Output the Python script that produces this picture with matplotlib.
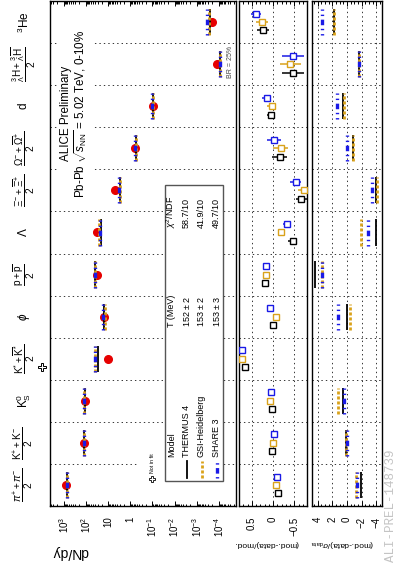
import numpy as np
import matplotlib
matplotlib.use("Agg")
import matplotlib.pyplot as plt
from matplotlib.patches import Rectangle
from matplotlib.ticker import LogLocator, FixedLocator, MultipleLocator, NullFormatter

plt.rcParams["font.family"] = ["Liberation Sans", "DejaVu Sans"]
plt.rcParams["mathtext.fontset"] = "custom"
plt.rcParams["mathtext.rm"] = "Liberation Sans"
plt.rcParams["mathtext.it"] = "Liberation Sans:italic"
plt.rcParams["mathtext.bf"] = "Liberation Sans:bold"
plt.rcParams["lines.scale_dashes"] = False

# ── data ─────────────────────────────────────────────────────────────────────
species = [
    r"$\dfrac{\pi^{+}+\pi^{-}}{2}$",
    r"$\dfrac{\mathrm{K}^{+}+\mathrm{K}^{-}}{2}$",
    r"$\mathrm{K}^{0}_{\mathrm{S}}$",
    r"$\dfrac{\mathrm{K}^{*}+\overline{\mathrm{K}}^{*}}{2}$",
    r"$\phi$",
    r"$\dfrac{\mathrm{p}+\overline{\mathrm{p}}}{2}$",
    r"$\Lambda$",
    r"$\dfrac{\Xi^{-}+\overline{\Xi}^{+}}{2}$",
    r"$\dfrac{\Omega^{-}+\overline{\Omega}^{+}}{2}$",
    r"$\mathrm{d}$",
    r"$\dfrac{{}^{3}_{\Lambda}\mathrm{H}+{}^{3}_{\bar{\Lambda}}\overline{\mathrm{H}}}{2}$",
    r"${}^{3}\mathrm{He}$",
]
is_frac = [True, True, False, True, False, True, False, True, True, False, True, False]

yield_data = [790, 121, 112, 10.2, 15.5, 33, 30.8, 4.9, 0.62, 0.093, 1.23e-4, 1.95e-4]
yield_thermus = [705, 123.5, 115.5, 29.1, 15.3, 41.3, 21.1, 2.93, 0.534, 0.098, 8.37e-5, 2.57e-4]
yield_gsi = [738, 119.8, 119.1, 37.8, 14.6, 39.3, 25.9, 2.85, 0.525, 0.0959, 8.72e-5, 2.64e-4]
yield_share = [718, 118.6, 117.9, 37.8, 16.7, 39.3, 23.3, 3.2, 0.608, 0.109, 8.37e-5, 3.25e-4]

# (mod.-data)/mod.
rel_thermus = [-0.12, 0.02, 0.03, 0.65, -0.01, 0.20, -0.46, -0.67, -0.16, 0.05, -0.47, 0.24]
rel_gsi = [-0.07, -0.01, 0.06, 0.73, -0.06, 0.16, -0.19, -0.72, -0.18, 0.03, -0.41, 0.26]
rel_share = [-0.10, -0.02, 0.05, 0.73, 0.07, 0.16, -0.32, -0.53, -0.02, 0.15, -0.47, 0.40]
rel_err_thermus = [0.03, 0.03, 0.03, 0.03, 0.08, 0.03, 0.10, 0.14, 0.18, 0.10, 0.26, 0.14]
rel_err_gsi = [0.03, 0.03, 0.03, 0.03, 0.07, 0.03, 0.07, 0.14, 0.18, 0.10, 0.25, 0.14]
rel_err_share = [0.03, 0.03, 0.03, 0.03, 0.05, 0.03, 0.09, 0.14, 0.17, 0.11, 0.26, 0.12]

# (mod.-data)/sigma_data  (K* not in fit)
sig_thermus = [-1.9, 0.18, 0.6, np.nan, 0.04, 4.35, -3.9, -3.9, -0.77, 0.5, -1.63, 1.77]
sig_gsi = [-1.22, 0.13, 1.27, np.nan, -0.41, 3.44, -1.9, -4.04, -0.86, 0.41, -1.6, 1.77]
sig_share = [-1.4, 0.0, 0.36, np.nan, 1.18, 3.44, -2.9, -3.36, 0.04, 1.4, -1.66, 3.36]

models = ["THERMUS 4", "GSI-Heidelberg", "SHARE 3"]
temps = ["152 $\\pm$ 2", "153 $\\pm$ 2", "153 $\\pm$ 3"]
chi2 = ["58.7/10", "41.9/10", "49.7/10"]

# ── style ────────────────────────────────────────────────────────────────────
W, H = 400, 572
C_BLK = "#000000"
C_YEL = "#d9a21b"
C_BLU = "#1a1ae6"
LS_BLK = "-"
LS_YEL = (0, (2.2, 1.4))
LS_BLU = (0, (1, 2.8, 1, 2.6, 4, 2.6, 1, 2.8, 1, 20))
GRID = dict(color="#333333", lw=0.7, ls=(0, (1, 2.2)), zorder=1)
HW = 0.31


def fx(x):
    return x / W


def fy(y):
    return 1 - y / H


fig = plt.figure(figsize=(W / 100, H / 100), dpi=100)
ax1 = fig.add_axes([fx(50), fy(506), (236 - 50) / W, 505 / H])
ax2 = fig.add_axes([fx(239), fy(506), (307 - 239) / W, 505 / H])
ax3 = fig.add_axes([fx(312), fy(506), (382 - 312) / W, 505 / H])

pos = np.arange(len(species))

for ax in (ax1, ax2, ax3):
    ax.set_ylim(-0.5, len(species) - 0.5)
    ax.set_yticks([])
    for s in ax.spines.values():
        s.set_linewidth(1.0)
    ax.tick_params(axis="x", which="both", direction="in", top=True, bottom=True,
                   labelsize=7, labelrotation=90, pad=7.5, width=0.7)
    ax.tick_params(axis="x", which="major", length=3.6)
    ax.tick_params(axis="x", which="minor", length=1.8)
    for b in pos[:-1] + 0.5:
        ax.axhline(b, **GRID)

# ① dN/dy
ax1.set_xscale("log")
ax1.set_xlim(10 ** 3.63, 10 ** -4.78)
dec = list(range(-4, 4))
ax1.xaxis.set_major_locator(FixedLocator([10.0 ** k for k in dec]))
ax1.set_xticklabels(["1" if k == 0 else "10" if k == 1 else r"$10^{%d}$" % k for k in dec])
ax1.xaxis.set_minor_locator(LogLocator(base=10, subs=np.arange(2, 10), numticks=20))
ax1.xaxis.set_minor_formatter(NullFormatter())

ax1.plot(yield_data, pos, "o", color="#e60000", ms=5.5, zorder=4)
ax1.vlines(yield_thermus, pos - HW, pos + HW, colors=C_BLK, linestyles=LS_BLK, lw=1.3, zorder=5)
ax1.vlines(yield_gsi, pos - HW, pos + HW, colors=C_YEL, linestyles=[LS_YEL], lw=2.0, zorder=6)
ax1.vlines(yield_share, pos - HW, pos + HW, colors=C_BLU, linestyles=[LS_BLU], lw=2.4, zorder=7)

# white boxes hiding the grid behind text
for (x0, y0, x1, y1) in [(58, 25, 93, 203), (137, 445, 164, 487)]:
    ax1.add_patch(Rectangle((fx(x0), fy(y1)), (x1 - x0) / W, (y1 - y0) / H,
                            transform=fig.transFigure, fc="white", ec="none", zorder=2))
ax1.add_patch(Rectangle((fx(165), fy(481)), (223 - 165) / W, (481 - 185) / H,
                        transform=fig.transFigure, fc="white", ec="#555555", lw=1.0, zorder=2))


def ftext(x, y, s, **kw):
    kw.setdefault("rotation", 90)
    kw.setdefault("ha", "center")
    kw.setdefault("va", "center")
    kw.setdefault("zorder", 8)
    fig.text(fx(x), fy(y), s, **kw)


ftext(66, 113, "ALICE Preliminary", fontsize=8.4)
ftext(81, 114, r"Pb-Pb $\sqrt{s_{\mathrm{NN}}}$ = 5.02 TeV, 0-10%", fontsize=8.4)
ftext(231, 62, "BR = 25%", fontsize=5, color="#444444")

# legend
rows_x = [186.5, 201.5, 216.5]
ftext(171.5, 457, "Model", fontsize=6.5, va="bottom")
ftext(171.5, 327, "T (MeV)", fontsize=6.5, va="bottom")
ftext(171.5, 228, r"$\chi^{2}$/NDF", fontsize=6.5, va="bottom")
for xr, m, t, c in zip(rows_x, models, temps, chi2):
    ftext(xr, 457, m, fontsize=6.5, va="bottom")
    ftext(xr, 327, t, fontsize=6.5, va="bottom")
    ftext(xr, 228, c, fontsize=6.5, va="bottom")
for xr, col, ls, lw in zip(rows_x, [C_BLK, C_YEL, C_BLU], [LS_BLK, LS_YEL, (0, (1, 2.5, 4, 2.5, 1, 20))],
                           [1.3, 2.0, 2.4]):
    fig.add_artist(plt.Line2D([fx(xr), fx(xr)], [fy(478), fy(461)], color=col, ls=ls, lw=lw,
                              transform=fig.transFigure, zorder=8))

# not in fit
fig.add_artist(plt.Line2D([fx(151.7)], [fy(478.5)], marker="P", ms=5, mfc="white", mec="black",
                          mew=0.6, transform=fig.transFigure, zorder=8))
ftext(152.5, 473, "Not in fit", fontsize=3.8, va="bottom")
fig.add_artist(plt.Line2D([fx(41.7)], [fy(366.7)], marker="P", ms=6, mfc="white", mec="black",
                          mew=0.7, transform=fig.transFigure, zorder=8))

# species labels
for i, lab in enumerate(species):
    ax1.text(-0.14, i, lab, transform=ax1.get_yaxis_transform(), rotation=90,
             ha="center", va="center", fontsize=7.2 if is_frac[i] else 8.5)

# ② (mod.-data)/mod.
ax2.set_xlim(0.8, -0.8)
ax2.xaxis.set_major_locator(FixedLocator([0.5, 0, -0.5]))
ax2.set_xticklabels(["0.5", "0", "\u22120.5"])
ax2.xaxis.set_minor_locator(MultipleLocator(0.1))
for v in [0.5, 0, -0.5]:
    ax2.axvline(v, **GRID)
for vals, errs, col, off in [(rel_thermus, rel_err_thermus, C_BLK, -0.2),
                             (rel_gsi, rel_err_gsi, C_YEL, 0.0),
                             (rel_share, rel_err_share, C_BLU, 0.2)]:
    ax2.errorbar(vals, pos + off, xerr=errs, fmt="s", ms=4.8, mfc="white", mec=col,
                 mew=1.0, ecolor=col, elinewidth=1.1, capsize=0, zorder=5)

# ③ (mod.-data)/sigma
ax3.set_xlim(4.75, -4.75)
ax3.xaxis.set_major_locator(FixedLocator([4, 2, 0, -2, -4]))
ax3.set_xticklabels(["4", "2", "0", "\u22122", "\u22124"])
ax3.xaxis.set_minor_locator(MultipleLocator(0.5))
for v in [4, 2, 0, -2, -4]:
    ax3.axvline(v, **GRID)
ax3.vlines(sig_thermus, pos - HW, pos + HW, colors=C_BLK, linestyles=LS_BLK, lw=1.3, zorder=5)
ax3.vlines(sig_gsi, pos - HW, pos + HW, colors=C_YEL, linestyles=[LS_YEL], lw=2.0, zorder=6)
ax3.vlines(sig_share, pos - HW, pos + HW, colors=C_BLU, linestyles=[LS_BLU], lw=2.4, zorder=7)

# axis titles (upside down)
ftext(52, 552, "dN/dy", fontsize=10, rotation=180, ha="left")
ftext(266, 543, "(mod.-data)/mod.", fontsize=6, rotation=180)
ftext(342, 543, r"(mod.-data)/$\sigma_{\mathrm{data}}$", fontsize=6, rotation=180)

ftext(391, 562, "ALI-PREL-148739", fontsize=9, va="bottom", color="#c4c4c4",
      family=["Liberation Mono", "DejaVu Sans Mono"])

fig.savefig("out.png", dpi=100)
